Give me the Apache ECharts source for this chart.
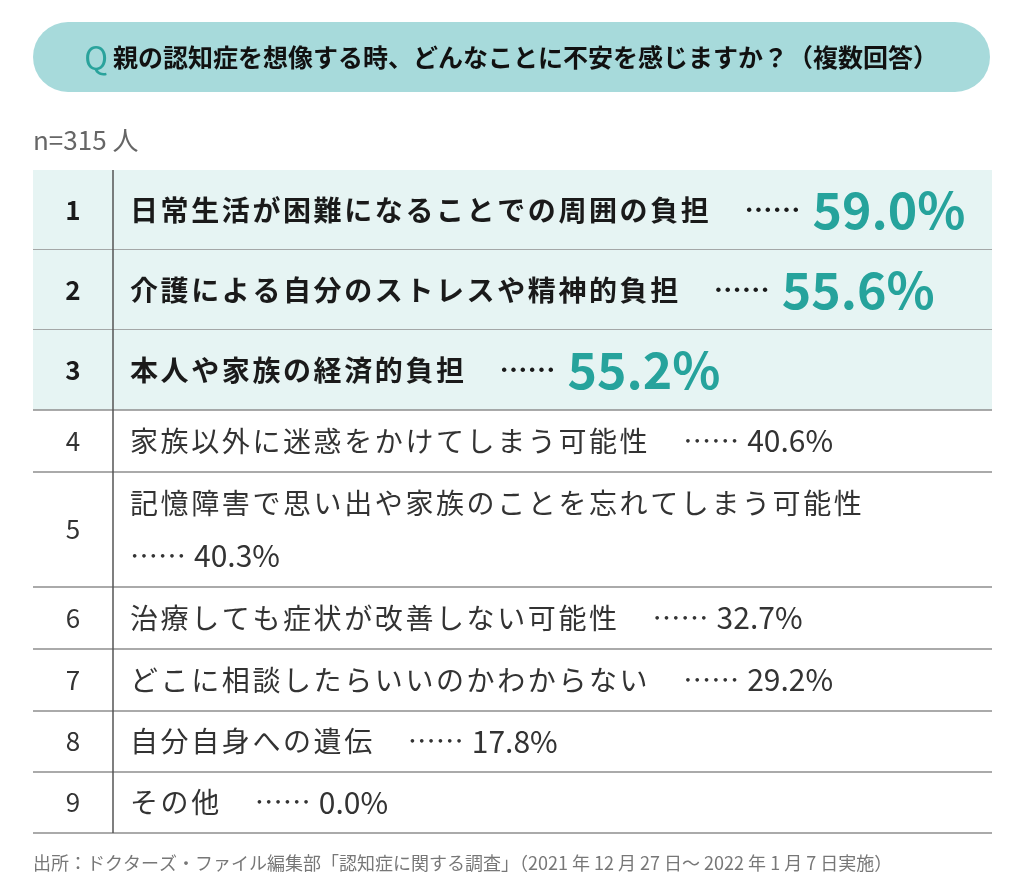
<!DOCTYPE html>
<html>
<head>
<meta charset="utf-8">
<script src="https://cdn.jsdelivr.net/npm/echarts@6/dist/echarts.min.js"></script>
<style>
  html, body { margin: 0; padding: 0; background: #fff; }
  #chart { width: 1024px; height: 896px; }
</style>
</head>
<body>
<div id="chart"></div>
<script>
// survey data
const ranks = [1, 2, 3, 4, 5, 6, 7, 8, 9];
const labels = [
  "日常生活が困難になることでの周囲の負担",
  "介護による自分のストレスや精神的負担",
  "本人や家族の経済的負担",
  "家族以外に迷惑をかけてしまう可能性",
  "記憶障害で思い出や家族のことを忘れてしまう可能性",
  "治療しても症状が改善しない可能性",
  "どこに相談したらいいのかわからない",
  "自分自身への遺伝",
  "その他"
];
const percents = [59.0, 55.6, 55.2, 40.6, 40.3, 32.7, 29.2, 17.8, 0.0];
const sampleSize = 315;
const questionText = "親の認知症を想像する時、どんなことに不安を感じますか？（複数回答）";
const sourceText = "出所：ドクターズ・ファイル編集部「認知症に関する調査」（2021 年 12 月 27 日～ 2022 年 1 月 7 日実施）";

// layout
const FONT = '"Noto Sans CJK JP", "Noto Sans", sans-serif';
const ROW_HEIGHTS = [80, 80, 80, 62, 115, 62, 62, 61, 61];
const WRAPPED_ROWS = [4];
const TOP_N = 3;
const TEAL = "#26a39c";
const LETTER_GAP = 2.6;

const rowStarts = [];
ROW_HEIGHTS.reduce((acc, h) => { rowStarts.push(acc); return acc + h; }, 0);
const tableHeight = ROW_HEIGHTS.reduce((a, b) => a + b, 0);

// zrender has no letter-spacing, so each char becomes its own rich token
const spaced = (str) => Array.from(str).map(ch => "{c|" + ch + "}").join("");

const chart = echarts.init(document.getElementById("chart"));

const renderRow = (params, api) => {
  const i = api.value(0);
  const pct = api.value(1);
  const cs = params.coordSys;
  const top = api.coord([0, rowStarts[i]])[1];
  const bottom = api.coord([0, rowStarts[i] + ROW_HEIGHTS[i]])[1];
  const left = cs.x;
  const right = cs.x + cs.width;
  const divX = left + 80;
  const mid = (top + bottom) / 2;
  const isTop = i < TOP_N;
  const wrapped = WRAPPED_ROWS.includes(i);

  const children = [];
  if (isTop) {
    children.push({
      type: "rect",
      shape: { x: left, y: top, width: right - left, height: bottom - top },
      style: { fill: "#e6f4f3" }
    });
  }
  children.push({
    type: "line",
    shape: { x1: left, y1: bottom, x2: right, y2: bottom },
    style: { stroke: "#8e8e8e", lineWidth: 1.5 }
  });
  children.push({
    type: "line",
    shape: { x1: divX, y1: top, x2: divX, y2: bottom },
    style: { stroke: "#555", lineWidth: 1.5 }
  });
  children.push({
    type: "text",
    style: {
      text: String(ranks[i]),
      x: left + 40,
      y: mid,
      align: "center",
      verticalAlign: "middle",
      fontFamily: FONT,
      fontSize: 26,
      fontWeight: isTop ? "bold" : "normal",
      fill: isTop ? "#1a1a1a" : "#333"
    }
  });

  const valueStr = pct.toFixed(1) + "%";
  const text = spaced(labels[i]) + (wrapped ? "\n" : "") +
    "{dt|……}{v|" + valueStr + "}";
  children.push({
    type: "text",
    style: {
      text: text,
      x: left + 97,
      y: mid,
      align: "left",
      verticalAlign: "middle",
      fontFamily: FONT,
      lineHeight: wrapped ? 53 : 60,
      rich: isTop ? {
        c: { fontFamily: FONT, fontSize: 28, fontWeight: "bold", fill: "#1a1a1a", padding: [0, LETTER_GAP, 0, 0] },
        dt: { fontFamily: FONT, fontSize: 28, fontWeight: "bold", fill: "#1a1a1a", padding: [0, 12, 0, 33] },
        v: { fontFamily: FONT, fontSize: 50, fontWeight: "bold", fill: TEAL }
      } : {
        c: { fontFamily: FONT, fontSize: 28, fill: "#333", lineHeight: 53, padding: [0, LETTER_GAP, 0, 0] },
        dt: { fontFamily: FONT, fontSize: 28, fill: "#333", padding: [0, 8, 0, wrapped ? 0 : 33], lineHeight: 53 },
        v: { fontFamily: FONT, fontSize: 30, fill: "#333", lineHeight: 53 }
      }
    }
  });
  return { type: "group", children: children };
};

const option = {
  animation: false,
  grid: { left: 33, right: 32, top: 170, height: tableHeight },
  xAxis: { type: "value", min: 0, max: 100, show: false },
  yAxis: { type: "value", min: 0, max: tableHeight, inverse: true, show: false },
  graphic: [
    {
      type: "rect",
      shape: { x: 33, y: 22, width: 957, height: 70, r: 35 },
      style: { fill: "#a7dadb" }
    },
    {
      type: "text",
      style: {
        text: "Q", x: 96, y: 58, align: "center", verticalAlign: "middle",
        fontFamily: FONT, fontSize: 32, fill: "#2aa39c"
      }
    },
    {
      type: "text",
      style: {
        text: questionText, x: 113, y: 57, align: "left", verticalAlign: "middle",
        fontFamily: FONT, fontSize: 25, fontWeight: "bold", fill: "#111"
      }
    },
    {
      type: "text",
      style: {
        text: "n=" + sampleSize + " 人", x: 33, y: 140, align: "left", verticalAlign: "middle",
        fontFamily: FONT, fontSize: 26, fill: "#666"
      }
    },
    {
      type: "text",
      style: {
        text: sourceText, x: 33, y: 863, align: "left", verticalAlign: "middle",
        fontFamily: FONT, fontSize: 18, fill: "#777"
      }
    }
  ],
  series: [
    {
      type: "custom",
      renderItem: renderRow,
      data: percents.map((p, i) => [i, p]),
      encode: { x: 1, y: 0 }
    }
  ]
};

chart.setOption(option);
window.addEventListener("resize", () => chart.resize());
</script>
</body>
</html>
